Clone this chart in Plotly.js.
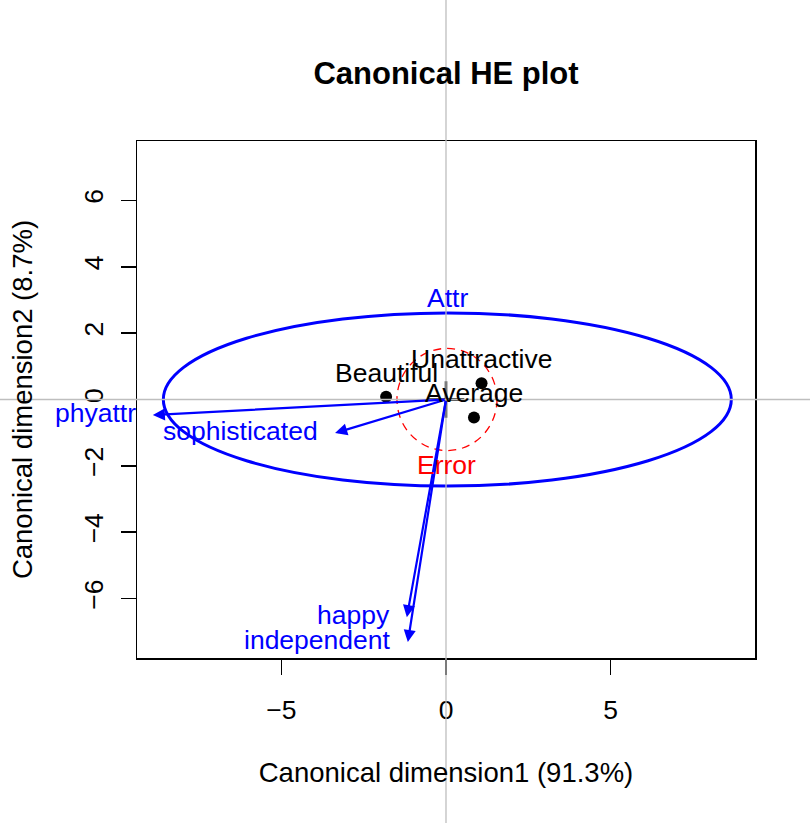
<!DOCTYPE html>
<html>
<head>
<meta charset="utf-8">
<script src="https://cdn.plot.ly/plotly-3.0.1.min.js"></script>
<style>html,body{margin:0;padding:0;background:#fff;}#plot{width:810px;height:823px;}</style>
</head>
<body>
<div id="plot"></div>
<script>
// ---- data ----
const groupNames = ["Beautiful", "Unattractive", "Average"];
const groupX = [-1.82, 1.08, 0.85];
const groupY = [0.08, 0.49, -0.54];

const varNames = ["phyattr", "sophisticated", "happy", "independent"];
const varX = [-8.91, -3.37, -1.19, -1.16];
const varY = [-0.47, -1.01, -6.56, -7.31];

const grandMean = [0, 0];

const hName = "Attr";
const hCenter = [0.04, 0];
const hRadii = [8.63, 2.61];

const eName = "Error";
const eCenter = [0.03, 0];
const eRadii = [1.52, 1.54];

const xTicks = [-5, 0, 5];
const yTicks = [-6, -4, -2, 0, 2, 4, 6];
const xRange = [-9.39, 9.39];
const yRange = [-7.79, 7.79];

const FONT = "Liberation Sans, Arial, Helvetica, sans-serif";
const BLUE = "#0000ff";
const RED = "#ff0000";

const traces = [
  {
    type: "scatter", mode: "markers",
    x: groupX, y: groupY,
    marker: {color: "black", size: 12},
    hoverinfo: "skip", showlegend: false
  },
  {
    type: "scatter", mode: "markers",
    x: [grandMean[0]], y: [grandMean[1]],
    marker: {symbol: "cross-thin", size: 26, line: {color: "black", width: 2.5}},
    hoverinfo: "skip", showlegend: false
  }
];

const shapes = [
  {type: "line", xref: "x", yref: "paper", x0: 0, x1: 0, y0: -2, y1: 3,
   line: {color: "#bebebe", width: 1.3}, layer: "above"},
  {type: "line", xref: "paper", yref: "y", x0: -2, x1: 3, y0: 0, y1: 0,
   line: {color: "#bebebe", width: 1.3}, layer: "above"},
  {type: "circle", xref: "x", yref: "y",
   x0: hCenter[0] - hRadii[0], x1: hCenter[0] + hRadii[0],
   y0: hCenter[1] - hRadii[1], y1: hCenter[1] + hRadii[1],
   line: {color: BLUE, width: 3}, layer: "below"},
  {type: "circle", xref: "x", yref: "y",
   x0: eCenter[0] - eRadii[0], x1: eCenter[0] + eRadii[0],
   y0: eCenter[1] - eRadii[1], y1: eCenter[1] + eRadii[1],
   line: {color: RED, width: 1.3, dash: "8px,6px"}, layer: "below"}
];

const annotations = [];
for (let i = 0; i < varNames.length; i++) {
  annotations.push({
    x: varX[i], y: varY[i], xref: "x", yref: "y",
    ax: 0, ay: 0, axref: "x", ayref: "y",
    showarrow: true, arrowhead: 2, arrowsize: 1.1, arrowwidth: 2.2,
    arrowcolor: BLUE, standoff: 0, text: ""
  });
  annotations.push({
    x: varX[i], y: varY[i], xref: "x", yref: "y",
    text: varNames[i], showarrow: false,
    xanchor: "right", yanchor: "middle", xshift: -15, yshift: 2,
    font: {family: FONT, size: 26.5, color: BLUE}
  });
}
for (let i = 0; i < groupNames.length; i++) {
  annotations.push({
    x: groupX[i], y: groupY[i], xref: "x", yref: "y",
    text: groupNames[i], showarrow: false,
    xanchor: "center", yanchor: "middle", yshift: 24,
    font: {family: FONT, size: 26.5, color: "black"}
  });
}
annotations.push({
  x: hCenter[0], y: hCenter[1] + hRadii[1], xref: "x", yref: "y",
  text: hName, showarrow: false, xanchor: "center", yanchor: "middle", yshift: 15,
  font: {family: FONT, size: 26.5, color: BLUE}
});
annotations.push({
  x: eCenter[0], y: eCenter[1] - eRadii[1], xref: "x", yref: "y",
  text: eName, showarrow: false, xanchor: "center", yanchor: "middle", yshift: -14,
  font: {family: FONT, size: 26.5, color: RED}
});

const layout = {
  width: 810, height: 823,
  margin: {l: 137, r: 55, t: 141, b: 165, pad: 0},
  paper_bgcolor: "white", plot_bgcolor: "white",
  font: {family: FONT, size: 26.5, color: "black"},
  showlegend: false,
  title: {
    text: "Canonical HE plot",
    font: {family: FONT, size: 31, weight: "bold", color: "black"},
    x: 0.5, xref: "paper", xanchor: "center",
    y: 1 - 73 / 823, yref: "container", yanchor: "middle"
  },
  xaxis: {
    range: xRange, tickvals: xTicks, ticktext: xTicks.map(v => v < 0 ? "\u2212" + Math.abs(v) : String(v)),
    ticks: "outside", ticklen: 15, tickwidth: 1.5, tickcolor: "black",
    ticklabelstandoff: 13,
    showline: true, linecolor: "black", linewidth: 1.5, mirror: true,
    showgrid: false, zeroline: false,
    tickfont: {family: FONT, size: 26.5, color: "black"},
    title: {text: "Canonical dimension1 (91.3%)", standoff: 38,
            font: {family: FONT, size: 27.5, color: "black"}}
  },
  yaxis: {
    range: yRange, tickvals: yTicks, ticktext: yTicks.map(v => v < 0 ? "\u2212" + Math.abs(v) : String(v)),
    tickangle: -90,
    ticks: "outside", ticklen: 15, tickwidth: 1.5, tickcolor: "black",
    ticklabelstandoff: 7,
    showline: true, linecolor: "black", linewidth: 1.5, mirror: true,
    showgrid: false, zeroline: false,
    tickfont: {family: FONT, size: 26.5, color: "black"},
    title: {text: "Canonical dimension2 (8.7%)", standoff: 38,
            font: {family: FONT, size: 27.5, color: "black"}}
  },
  shapes: shapes,
  annotations: annotations
};

Plotly.newPlot("plot", traces, layout, {staticPlot: true, displayModeBar: false});
</script>
</body>
</html>
